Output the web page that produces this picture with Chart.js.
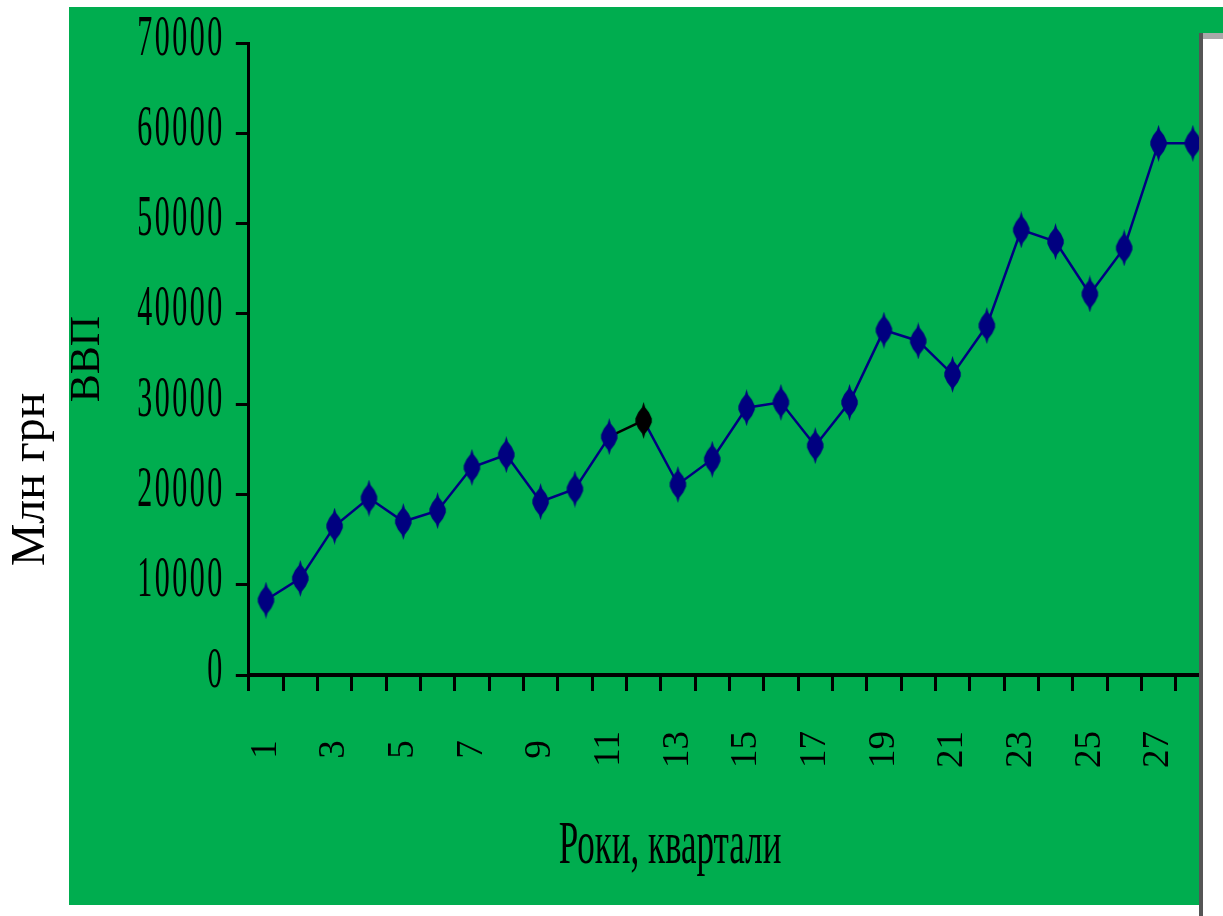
<!DOCTYPE html>
<html lang="uk">
<head>
<meta charset="utf-8">
<title>ВВП, млн грн</title>
<script src="https://cdn.jsdelivr.net/npm/chart.js@4.4.1/dist/chart.umd.min.js"></script>
<style>
  html, body { margin: 0; padding: 0; background: #fff; overflow: hidden; }
  #wrap { position: relative; width: 1223px; height: 916px; }
  #gdp { position: absolute; left: 0; top: 0; }
  /* window edge that cuts the sheet on the right */
  #edge {
    position: absolute; left: 1199px; top: 33px; width: 20px; height: 883px;
    border-left: 4px solid #555;
    background: linear-gradient(#a9a9a9 0 6px, #fff 6px);
  }
</style>
</head>
<body>
<div id="wrap">
  <canvas id="gdp" width="1223" height="916"></canvas>
  <div id="edge"></div>
</div>
<script>
// Quarterly GDP, mln UAH
const quarters = ['1','2','3','4','5','6','7','8','9','10','11','12','13','14',
                  '15','16','17','18','19','20','21','22','23','24','25','26','27','28'];
const gdp = [8300, 10700, 16500, 19600, 17000, 18200, 23000, 24400, 19200, 20600,
             26400, 28200, 21100, 23900, 29600, 30200, 25400, 30200, 38200, 37000,
             33300, 38700, 49300, 48000, 42200, 47300, 58900, 58900];
const yTicks = [0, 10000, 20000, 30000, 40000, 50000, 60000, 70000];
const highlightIndex = 11;   // quarter 12 is marked in black

const unitTitle = 'Млн грн';
const yTitle = 'ВВП';
const xTitle = 'Роки, квартали';

const SERIF = "'Liberation Serif', 'Times New Roman', serif";
const GREEN = '#00ad4f';
const NAVY = '#000080';

// tall diamond marker
function diamond(color) {
  const c = document.createElement('canvas');
  c.width = 19; c.height = 37;
  const g = c.getContext('2d');
  g.translate(9.5, 18.5);
  const side = [[-13, 1.6], [-8, 5.4], [-2, 8.2], [2, 8.2], [8, 5.4], [13, 1.6]];
  g.beginPath();
  g.moveTo(0, -18.5);
  side.forEach(([y, w]) => g.lineTo(w, y));
  g.lineTo(0, 18.5);
  side.slice().reverse().forEach(([y, w]) => g.lineTo(-w, y));
  g.closePath();
  g.fillStyle = color;
  g.fill();
  return c;
}
const navyMark = diamond(NAVY);
const blackMark = diamond('#000');

// white page with the green chart sheet
const panel = {
  id: 'panel',
  beforeDraw(chart) {
    const { ctx, width } = chart;
    ctx.save();
    ctx.fillStyle = '#fff';
    ctx.fillRect(0, 0, width, chart.height);
    ctx.fillStyle = GREEN;
    ctx.fillRect(69, 7, width - 69, 898);
    ctx.restore();
  }
};

// value labels and category title in the tall, narrow lettering of the sheet
const stretchedText = {
  id: 'stretchedText',
  afterDraw(chart) {
    const { ctx, chartArea } = chart;
    const y = chart.scales.y;
    ctx.save();
    ctx.fillStyle = '#000';
    ctx.textBaseline = 'alphabetic';

    ctx.font = `30px ${SERIF}`;
    ctx.letterSpacing = '2.5px';
    ctx.textAlign = 'right';
    yTicks.forEach(v => {
      const py = y.getPixelForValue(v);
      ctx.save();
      ctx.translate(chartArea.left - 24, py + 11.5);
      ctx.scale(1, 1.92);
      ctx.fillText(String(v), 0, 0);
      ctx.restore();
    });

    ctx.font = `35px ${SERIF}`;
    ctx.letterSpacing = '0px';
    ctx.textAlign = 'center';
    ctx.save();
    ctx.translate(670, 863);
    ctx.scale(1, 1.74);
    ctx.fillText(xTitle, 0, 0);
    ctx.restore();

    ctx.restore();
  }
};

new Chart(document.getElementById('gdp'), {
  type: 'line',
  data: {
    labels: quarters,
    datasets: [{
      data: gdp,
      borderColor: NAVY,
      borderWidth: 2.5,
      tension: 0,
      pointRadius: 9,
      pointStyle: c => (c.dataIndex === highlightIndex ? blackMark : navyMark),
      segment: {
        borderColor: c => (c.p1DataIndex === highlightIndex ? '#000' : undefined)
      }
    }]
  },
  options: {
    responsive: false,
    animation: false,
    devicePixelRatio: 1,
    layout: { padding: { top: 43, right: 13, bottom: 0, left: 0 } },
    plugins: {
      legend: { display: false },
      tooltip: { enabled: false },
      title: {
        display: true,
        text: unitTitle,
        position: 'left',
        color: '#000',
        font: { family: SERIF, size: 48, weight: 'normal', lineHeight: 1.25 },
        padding: { top: 1, bottom: 0 }
      }
    },
    scales: {
      x: {
        type: 'category',
        offset: true,
        grid: { offset: true, drawOnChartArea: false, tickLength: 16, tickWidth: 3, tickColor: '#000' },
        border: { color: '#000', width: 4 },
        ticks: {
          autoSkip: false,
          minRotation: 90,
          maxRotation: 90,
          padding: 40,
          color: '#000',
          font: { family: SERIF, size: 37 },
          // every second quarter is labelled; one-digit labels get a space so they sit centred
          callback(v, i) {
            if (i % 2 !== 0) return '';
            const s = this.getLabelForValue(v);
            return s.length === 1 ? s + ' ' : s;
          }
        },
        afterFit(s) { s.height = 241; s.paddingLeft = 0; s.paddingRight = 0; }
      },
      y: {
        min: 0,
        max: 70000,
        grid: { drawOnChartArea: false, tickLength: 13, tickWidth: 3, tickColor: '#000' },
        border: { color: '#000', width: 3 },
        ticks: { display: false, stepSize: 10000 },
        afterBuildTicks(s) { s.ticks = yTicks.map(v => ({ value: v })); },
        title: {
          display: true,
          text: yTitle,
          color: '#000',
          font: { family: SERIF, size: 42, lineHeight: 1 },
          padding: { top: 6, bottom: 0 }
        },
        afterFit(s) { s.width = 187.8; s.paddingTop = 0; s.paddingBottom = 0; }
      }
    }
  },
  plugins: [panel, stretchedText]
});
</script>
</body>
</html>
